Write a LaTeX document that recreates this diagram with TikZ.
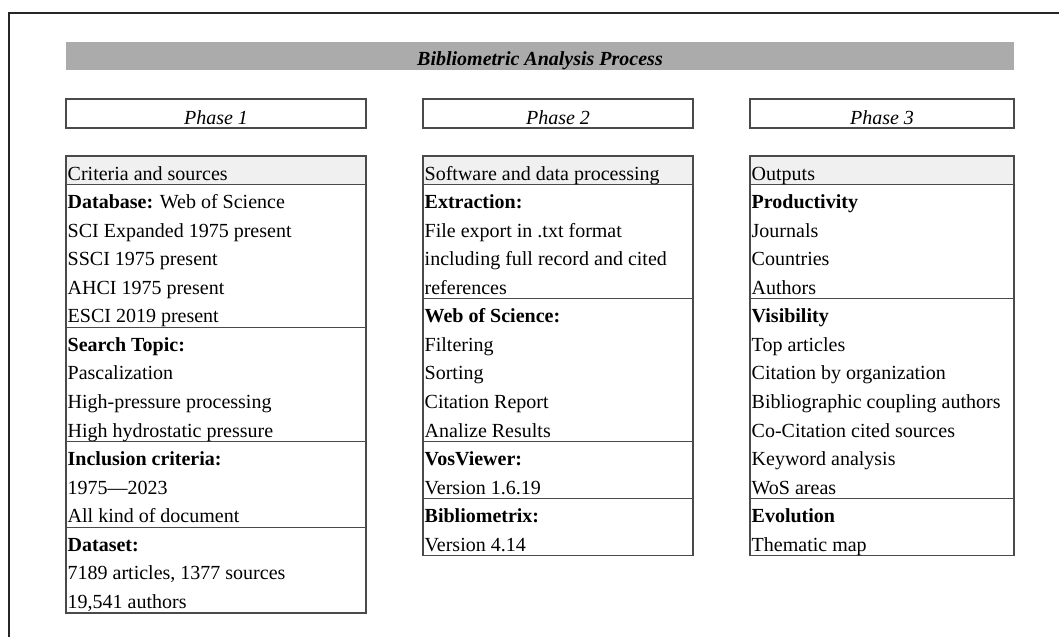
\documentclass[tikz,border=0pt]{standalone}
\usepackage{fontspec}
\setmainfont{Liberation Serif}
\newcommand{\trow}[4]{\node[cell] (#1) at ({#2+1.5},{156+#3*28.56+24}) {#4};}
\newcommand{\tdiv}[4]{\draw[boxline] (#1,{156+#3*28.56}) -- (#2,{156+#3*28.56});}
\begin{document}
\begin{tikzpicture}[x=1pt,y=-1pt]
\definecolor{linegray}{HTML}{4A4A4A}
\definecolor{titlegray}{HTML}{ABABAB}
\definecolor{headgray}{HTML}{F0F0F0}
\tikzset{
  cell/.style={anchor=base west,inner sep=0pt,font=\fontsize{20}{24}\selectfont},
  phasetext/.style={anchor=base,inner sep=0pt,font=\fontsize{20}{24}\selectfont\itshape},
  boxline/.style={draw=linegray,line width=1.1pt},
}
\useasboundingbox (0,0) rectangle (1059,637);
\fill[white] (0,0) rectangle (1059,637);
% outer frame
\draw[line width=2pt,black!85] (8.5,637) -- (8.5,13) -- (1059,13);
% title bar
\fill[titlegray] (66,42) rectangle (1014,70);
\node[anchor=base,inner sep=0pt,font=\fontsize{20}{24}\selectfont\bfseries\itshape] (title) at (540,65.5) {Bibliometric Analysis Process};
% phase boxes
\draw[boxline] (66,99) rectangle (366,128);
\draw[boxline] (423,99) rectangle (693,128);
\draw[boxline] (750,99) rectangle (1014,128);
\node[phasetext] (ph1) at (216,124) {Phase 1};
\node[phasetext] (ph2) at (558,124) {Phase 2};
\node[phasetext] (ph3) at (882,124) {Phase 3};
% table headers
\fill[headgray] (66,156) rectangle (366,{156+28.56});
\fill[headgray] (423,156) rectangle (693,{156+28.56});
\fill[headgray] (750,156) rectangle (1014,{156+28.56});
% table 1
\draw[boxline] (66,156) rectangle (366,{156+16*28.56});
\tdiv{66}{366}{1}{}
\tdiv{66}{366}{6}{}
\tdiv{66}{366}{10}{}
\tdiv{66}{366}{13}{}
\trow{a0}{66}{0}{Criteria and sources}
\trow{a1}{66}{1}{\textbf{Database:} Web of Science}
\trow{a2}{66}{2}{SCI Expanded 1975 present}
\trow{a3}{66}{3}{SSCI 1975 present}
\trow{a4}{66}{4}{AHCI 1975 present}
\trow{a5}{66}{5}{ESCI 2019 present}
\trow{a6}{66}{6}{\textbf{Search Topic:}}
\trow{a7}{66}{7}{Pascalization}
\trow{a8}{66}{8}{High-pressure processing}
\trow{a9}{66}{9}{High hydrostatic pressure}
\trow{a10}{66}{10}{\textbf{Inclusion criteria:}}
\trow{a11}{66}{11}{1975—2023}
\trow{a12}{66}{12}{All kind of document}
\trow{a13}{66}{13}{\textbf{Dataset:}}
\trow{a14}{66}{14}{7189 articles, 1377 sources}
\trow{a15}{66}{15}{19,541 authors}
% table 2
\draw[boxline] (423,156) rectangle (693,{156+14*28.56});
\tdiv{423}{693}{1}{}
\tdiv{423}{693}{5}{}
\tdiv{423}{693}{10}{}
\tdiv{423}{693}{12}{}
\trow{b0}{423}{0}{Software and data processing}
\trow{b1}{423}{1}{\textbf{Extraction:}}
\trow{b2}{423}{2}{File export in .txt format}
\trow{b3}{423}{3}{including full record and cited}
\trow{b4}{423}{4}{references}
\trow{b5}{423}{5}{\textbf{Web of Science:}}
\trow{b6}{423}{6}{Filtering}
\trow{b7}{423}{7}{Sorting}
\trow{b8}{423}{8}{Citation Report}
\trow{b9}{423}{9}{Analize Results}
\trow{b10}{423}{10}{\textbf{VosViewer:}}
\trow{b11}{423}{11}{Version 1.6.19}
\trow{b12}{423}{12}{\textbf{Bibliometrix:}}
\trow{b13}{423}{13}{Version 4.14}
% table 3
\draw[boxline] (750,156) rectangle (1014,{156+14*28.56});
\tdiv{750}{1014}{1}{}
\tdiv{750}{1014}{5}{}
\tdiv{750}{1014}{12}{}
\trow{c0}{750}{0}{Outputs}
\trow{c1}{750}{1}{\textbf{Productivity}}
\trow{c2}{750}{2}{Journals}
\trow{c3}{750}{3}{Countries}
\trow{c4}{750}{4}{Authors}
\trow{c5}{750}{5}{\textbf{Visibility}}
\trow{c6}{750}{6}{Top articles}
\trow{c7}{750}{7}{Citation by organization}
\trow{c8}{750}{8}{Bibliographic coupling authors}
\trow{c9}{750}{9}{Co-Citation cited sources}
\trow{c10}{750}{10}{Keyword analysis}
\trow{c11}{750}{11}{WoS areas}
\trow{c12}{750}{12}{\textbf{Evolution}}
\trow{c13}{750}{13}{Thematic map}
\end{tikzpicture}
\end{document}
